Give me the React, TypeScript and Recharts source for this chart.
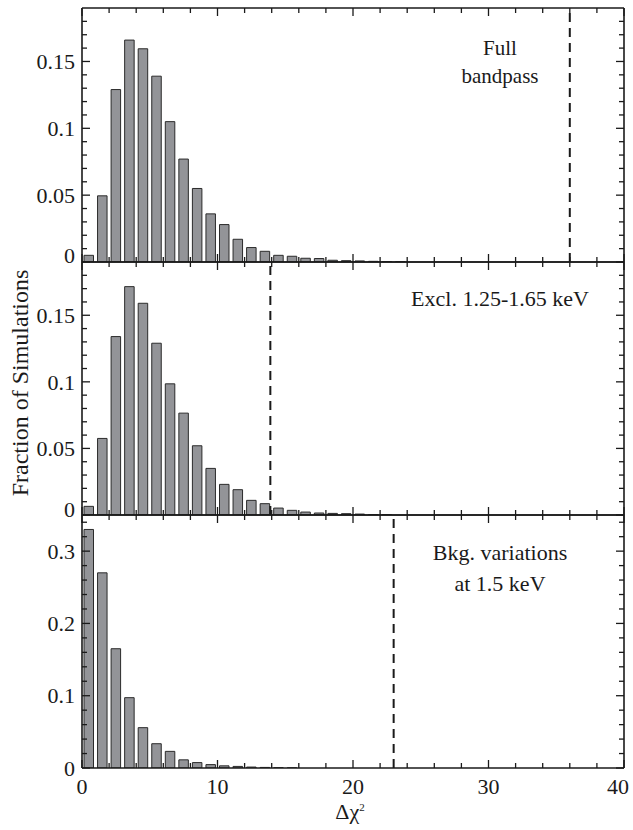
import React from 'react';
import { Bar, BarChart, ReferenceLine, XAxis, YAxis } from 'recharts';

// bin centres of the Δχ² histograms (bins 1 wide)
const binCentres = [
  0.5, 1.5, 2.5, 3.5, 4.5, 5.5, 6.5, 7.5, 8.5, 9.5, 10.5, 11.5, 12.5,
  13.5, 14.5, 15.5, 16.5, 17.5, 18.5, 19.5, 20.5, 21.5, 22.5, 23.5, 24.5,
];

const fullBandpass = [
  0.005, 0.0495, 0.129, 0.166, 0.1595, 0.139, 0.105, 0.077, 0.055, 0.036, 0.028, 0.017, 0.0108,
  0.008, 0.005, 0.0043, 0.0028, 0.0026, 0.0013, 0.001, 0.0008, 0.0005, 0.0003, 0.0002, 0,
];

const exclBand = [
  0.0065, 0.0575, 0.134, 0.1715, 0.159, 0.129, 0.0985, 0.0765, 0.052, 0.035, 0.023, 0.019, 0.011,
  0.0085, 0.0052, 0.0035, 0.0022, 0.0015, 0.0012, 0.001, 0.0007, 0.0003, 0.0002, 0, 0,
];

const bkgVariations = [
  0.33, 0.27, 0.165, 0.0973, 0.0558, 0.0336, 0.023, 0.0113, 0.0075, 0.0047, 0.003, 0.0022, 0.0013,
  0.0008, 0.0004, 0.0002, 0, 0, 0, 0, 0, 0, 0, 0, 0,
];

// observed Δχ² for each case (dashed lines)
const thresholds = [36, 13.9, 23];

const xTicks = [0, 2, 4, 6, 8, 10, 12, 14, 16, 18, 20, 22, 24, 26, 28, 30, 32, 34, 36, 38, 40];
const yTicksFine = [
  0, 0.01, 0.02, 0.03, 0.04, 0.05, 0.06, 0.07, 0.08, 0.09, 0.1, 0.11, 0.12, 0.13, 0.14, 0.15, 0.16,
  0.17, 0.18,
];
const yTicksCoarse = [
  0, 0.02, 0.04, 0.06, 0.08, 0.1, 0.12, 0.14, 0.16, 0.18, 0.2, 0.22, 0.24, 0.26, 0.28, 0.3, 0.32,
  0.34,
];

const FONT = '"Liberation Serif", "Times New Roman", serif';
const INK = '#1a1a1a';
const MAJOR = 8;
const MINOR = 5;

const isMultiple = (v: number, step: number) => Math.abs(v / step - Math.round(v / step)) < 1e-6;

function makeXTick(side: 'top' | 'bottom', labelled: boolean) {
  return (props: any) => {
    const { x, y, payload } = props;
    const v = payload.value as number;
    const major = isMultiple(v, 10);
    const len = major ? MAJOR : MINOR;
    const dir = side === 'bottom' ? -1 : 1;
    // last label is nudged in so it stays on the page
    const lx = v === 40 ? x - 6 : x;
    return (
      <g>
        <line x1={x} x2={x} y1={y} y2={y + dir * len} stroke={INK} strokeWidth={1.3} />
        {labelled && major && (
          <text x={lx} y={y + 26} textAnchor="middle" fontFamily={FONT} fontSize={22} fill={INK}>
            {v}
          </text>
        )}
      </g>
    );
  };
}

function makeYTick(side: 'left' | 'right', step: number, zeroShift: number) {
  return (props: any) => {
    const { x, y, payload } = props;
    const v = payload.value as number;
    const major = isMultiple(v, step);
    const len = major ? MAJOR : MINOR;
    const dir = side === 'left' ? 1 : -1;
    return (
      <g>
        <line x1={x} x2={x + dir * len} y1={y} y2={y} stroke={INK} strokeWidth={1.3} />
        {side === 'left' && major && (
          <text
            x={x - 7}
            y={y + (v === 0 ? zeroShift : 0)}
            dy="0.35em"
            textAnchor="end"
            fontFamily={FONT}
            fontSize={22}
            fill={INK}
          >
            {Number(v.toFixed(2)).toString()}
          </text>
        )}
      </g>
    );
  };
}

interface PanelProps {
  values: number[];
  yMax: number;
  yTicks: number[];
  majorStep: number;
  threshold: number;
  plotTop: number;
  plotHeight: number;
  bottomLabels: boolean;
  zeroShift: number;
}

function Panel({ values, yMax, yTicks, majorStep, threshold, plotTop, plotHeight, bottomLabels, zeroShift }: PanelProps) {
  const data = binCentres.map((x, i) => ({ x, frac: values[i] }));
  const pad = 12;
  const bottom = bottomLabels ? 62 : pad;
  const axisLine = { stroke: INK, strokeWidth: 1.6 };

  // axes take 1px each, so margins are 1px smaller than the wanted plot box
  return (
    <div style={{ position: 'absolute', left: 0, top: plotTop - pad }}>
      <BarChart
        width={633}
        height={plotHeight + pad + bottom}
        data={data}
        margin={{ top: pad - 1, right: 8, bottom: bottom - 1, left: 81 }}
        barSize={9.5}
      >
        <XAxis
          dataKey="x"
          type="number"
          domain={[0, 40]}
          ticks={xTicks}
          interval={0}
          height={1}
          tickSize={0}
          tickMargin={0}
          tickLine={false}
          axisLine={axisLine}
          tick={makeXTick('bottom', bottomLabels)}
        />
        <XAxis
          xAxisId="top"
          dataKey="x"
          orientation="top"
          type="number"
          domain={[0, 40]}
          ticks={xTicks}
          interval={0}
          height={1}
          tickSize={0}
          tickMargin={0}
          tickLine={false}
          axisLine={axisLine}
          tick={makeXTick('top', false)}
        />
        <YAxis
          type="number"
          domain={[0, yMax]}
          ticks={yTicks}
          interval={0}
          width={1}
          tickSize={0}
          tickMargin={0}
          tickLine={false}
          axisLine={axisLine}
          allowDataOverflow
          tick={makeYTick('left', majorStep, zeroShift)}
        />
        <YAxis
          yAxisId="right"
          orientation="right"
          type="number"
          domain={[0, yMax]}
          ticks={yTicks}
          interval={0}
          width={1}
          tickSize={0}
          tickMargin={0}
          tickLine={false}
          axisLine={axisLine}
          allowDataOverflow
          tick={makeYTick('right', majorStep, 0)}
        />
        <Bar dataKey="frac" fill="#939498" stroke="#2b2b2b" strokeWidth={1} isAnimationActive={false} />
        <ReferenceLine x={threshold} stroke={INK} strokeWidth={2} strokeDasharray="9 6" />
      </BarChart>
    </div>
  );
}

export default function App() {
  const txt = { fontFamily: FONT, fill: INK } as const;
  return (
    <div style={{ position: 'absolute', left: 0, top: 0, width: 633, height: 830, background: '#fff' }}>
      <Panel
        values={fullBandpass}
        yMax={0.19}
        yTicks={yTicksFine}
        majorStep={0.05}
        threshold={thresholds[0]}
        plotTop={8}
        plotHeight={254}
        bottomLabels={false}
        zeroShift={-7}
      />
      <Panel
        values={exclBand}
        yMax={0.19}
        yTicks={yTicksFine}
        majorStep={0.05}
        threshold={thresholds[1]}
        plotTop={262}
        plotHeight={253}
        bottomLabels={false}
        zeroShift={-6}
      />
      <Panel
        values={bkgVariations}
        yMax={0.35}
        yTicks={yTicksCoarse}
        majorStep={0.1}
        threshold={thresholds[2]}
        plotTop={515}
        plotHeight={253}
        bottomLabels
        zeroShift={0}
      />
      <svg
        width={633}
        height={830}
        style={{ position: 'absolute', left: 0, top: 0, pointerEvents: 'none' }}
      >
        <text {...txt} fontSize={21} x={500} y={55} textAnchor="middle">Full</text>
        <text {...txt} fontSize={21} x={500} y={83} textAnchor="middle">bandpass</text>
        <text {...txt} fontSize={22} x={500} y={306} textAnchor="middle">Excl. 1.25-1.65 keV</text>
        <text {...txt} fontSize={22} x={500} y={560} textAnchor="middle">Bkg. variations</text>
        <text {...txt} fontSize={22} x={500} y={591} textAnchor="middle">at 1.5 keV</text>
        <text {...txt} fontSize={24} transform="translate(28,383) rotate(-90)" textAnchor="middle">
          Fraction of Simulations
        </text>
        <text {...txt} fontSize={22} x={350} y={819} textAnchor="middle">
          Δχ<tspan fontSize={11} dy={-8}>2</tspan>
        </text>
      </svg>
    </div>
  );
}
